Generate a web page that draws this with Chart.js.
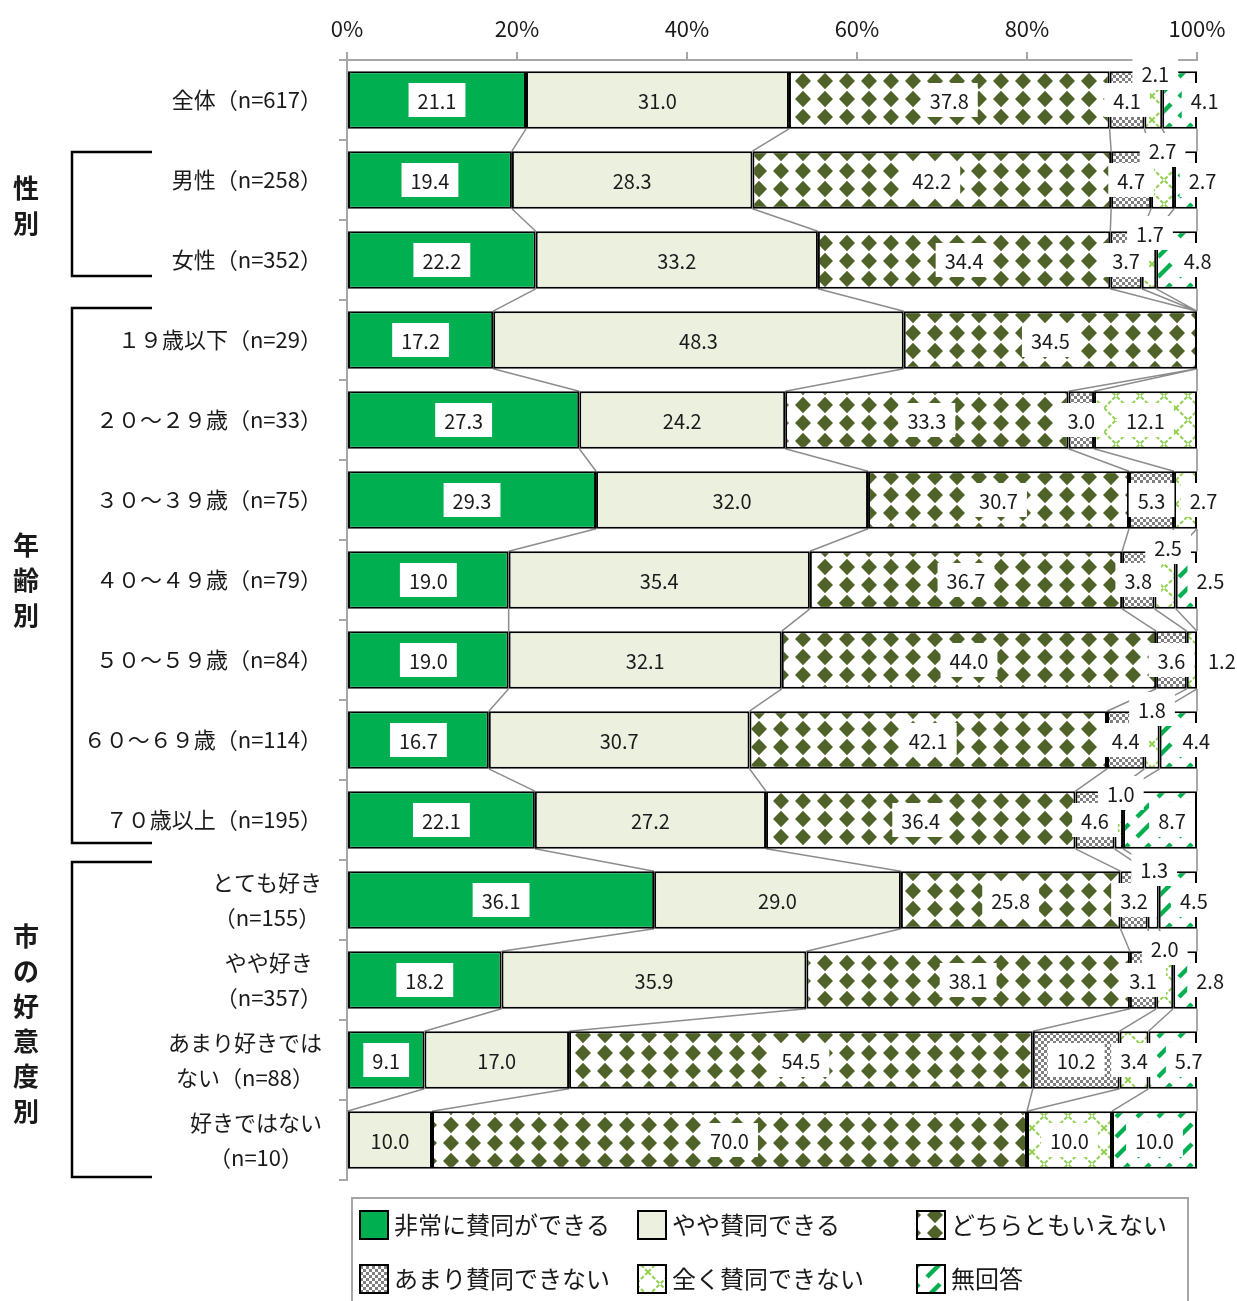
<!DOCTYPE html>
<html>
<head>
<meta charset="utf-8">
<script src="https://cdn.jsdelivr.net/npm/chart.js@4/dist/chart.umd.min.js"></script>
<style>
  html, body { margin: 0; padding: 0; background: #fff; }
</style>
</head>
<body>
<canvas id="surveyChart" width="1237" height="1301"></canvas>
<script>
// Row labels (multi-line rows are arrays of lines)
const rowLabels = [
  ["全体（n=617）"],
  ["男性（n=258）"],
  ["女性（n=352）"],
  ["１９歳以下（n=29）"],
  ["２０～２９歳（n=33）"],
  ["３０～３９歳（n=75）"],
  ["４０～４９歳（n=79）"],
  ["５０～５９歳（n=84）"],
  ["６０～６９歳（n=114）"],
  ["７０歳以上（n=195）"],
  ["とても好き", "（n=155）"],
  ["やや好き", "（n=357）"],
  ["あまり好きでは", "ない（n=88）"],
  ["好きではない", "（n=10）"],
];

const groupLabels = ["性別", "年齢別", "市の好意度別"];
const groupFirstRow = [1, 3, 10];
const groupLastRow = [2, 9, 13];

const seriesNames = [
  "非常に賛同ができる",
  "やや賛同できる",
  "どちらともいえない",
  "あまり賛同できない",
  "全く賛同できない",
  "無回答",
];

// Percentages per series, one value per row
const strongAgree = [21.1, 19.4, 22.2, 17.2, 27.3, 29.3, 19.0, 19.0, 16.7, 22.1, 36.1, 18.2, 9.1, 0];
const someAgree = [31.0, 28.3, 33.2, 48.3, 24.2, 32.0, 35.4, 32.1, 30.7, 27.2, 29.0, 35.9, 17.0, 10.0];
const neutral = [37.8, 42.2, 34.4, 34.5, 33.3, 30.7, 36.7, 44.0, 42.1, 36.4, 25.8, 38.1, 54.5, 70.0];
const notMuch = [4.1, 4.7, 3.7, 0, 3.0, 5.3, 3.8, 3.6, 4.4, 4.6, 3.2, 3.1, 10.2, 0];
const notAtAll = [2.1, 2.7, 1.7, 0, 12.1, 2.7, 2.5, 1.2, 1.8, 1.0, 1.3, 2.0, 3.4, 10.0];
const noAnswer = [4.1, 2.7, 4.8, 0, 0, 0, 2.5, 0, 4.4, 8.7, 4.5, 2.8, 5.7, 10.0];

const xTickValues = [0, 20, 40, 60, 80, 100];

const seriesValues = [strongAgree, someAgree, neutral, notMuch, notAtAll, noAnswer];

const FONT = '"Noto Sans CJK JP", "Noto Sans", sans-serif';
Chart.defaults.font.family = FONT;

// Label nudges for the small segments: "row,series" -> [dx, dy]
const labelNudge = {
  "0,4": [2, -27], "0,5": [25, 0],
  "1,4": [0, -30], "1,5": [17, 0],
  "2,4": [1, -27], "2,5": [21, 0],
  "5,4": [18, 0],
  "6,4": [3, -33], "6,5": [24, 0],
  "7,4": [30, 0],
  "8,4": [0, -31], "8,5": [18, 0],
  "9,4": [2, -27], "9,5": [12, 0],
  "10,4": [1, -31], "10,5": [16, 0],
  "11,4": [0, -32], "11,5": [25, 0],
  "12,5": [16, 0],
};

// bracket insets (px) above first row centre / below last row centre
const bracketTopInset = [28, 32, 38];
const bracketBottomInset = [16, 23, 37];
const titleShift = [-8, 5, 4];

// ---- fill patterns ----
function makeTile(w, h, draw) {
  const c = document.createElement("canvas");
  c.width = w;
  c.height = h;
  const g = c.getContext("2d");
  g.fillStyle = "#fff";
  g.fillRect(0, 0, w, h);
  draw(g);
  return document.getElementById("surveyChart").getContext("2d").createPattern(c, "repeat");
}

const diamondFill = makeTile(22, 18, (g) => {
  g.fillStyle = "#4F6228";
  g.beginPath();
  g.moveTo(11, 0.8);
  g.lineTo(19, 9);
  g.lineTo(11, 17.2);
  g.lineTo(3, 9);
  g.closePath();
  g.fill();
});

const checkerFill = makeTile(6, 6, (g) => {
  g.fillStyle = "#7F7F7F";
  g.fillRect(0, 0, 3, 3);
  g.fillRect(3, 3, 3, 3);
});

const crossFill = makeTile(24, 24, (g) => {
  g.strokeStyle = "#92D050";
  g.lineWidth = 2;
  g.setLineDash([4, 2]);
  g.beginPath();
  g.moveTo(0, 0);
  g.lineTo(24, 24);
  g.moveTo(24, 0);
  g.lineTo(0, 24);
  g.stroke();
});

const stripeFill = makeTile(21, 20, (g) => {
  g.strokeStyle = "#00B050";
  g.lineWidth = 4.5;
  g.beginPath();
  g.moveTo(3, 17);
  g.lineTo(16, 4);
  g.stroke();
});

const fills = ["#00B050", "#EBF1DE", diamondFill, checkerFill, crossFill, stripeFill];

// Excel-style 100% stacking: normalise each row to its total
const rowTotals = rowLabels.map((_, i) => seriesValues.reduce((s, arr) => s + arr[i], 0));

// Gray lines joining the segment edges of neighbouring bars
const connectorLines = {
  id: "connectorLines",
  beforeDatasetsDraw(chart) {
    const ctx = chart.ctx;
    const metas = seriesValues.map((_, k) => chart.getDatasetMeta(k));
    ctx.save();
    ctx.strokeStyle = "#8C8C8C";
    ctx.lineWidth = 1.5;
    ctx.beginPath();
    for (let i = 0; i < rowLabels.length - 1; i++) {
      metas.forEach((meta) => {
        const a = meta.data[i];
        const b = meta.data[i + 1];
        ctx.moveTo(a.x, a.y + a.height / 2);
        ctx.lineTo(b.x, b.y - b.height / 2);
      });
    }
    ctx.stroke();
    ctx.restore();
  },
};

// Value labels with white boxes
const valueLabels = {
  id: "valueLabels",
  afterDatasetsDraw(chart) {
    const ctx = chart.ctx;
    ctx.save();
    ctx.font = "20px " + FONT;
    ctx.textAlign = "center";
    ctx.textBaseline = "middle";
    seriesValues.forEach((vals, k) => {
      chart.getDatasetMeta(k).data.forEach((bar, i) => {
        const v = vals[i];
        if (!v) return;
        const nudge = labelNudge[i + "," + k] || [0, 0];
        const x = (bar.x + bar.base) / 2 + nudge[0];
        const y = bar.y + nudge[1];
        const text = v.toFixed(1);
        const w = ctx.measureText(text).width;
        if (k !== 1) {
          ctx.fillStyle = "#fff";
          ctx.fillRect(x - w / 2 - 9, y - 17, w + 18, 34);
        }
        ctx.fillStyle = "#1a1a1a";
        ctx.fillText(text, x, y + 1);
      });
    });
    ctx.restore();
  },
};

// Row labels, group brackets and the boxed legend
const sideAndLegend = {
  id: "sideAndLegend",
  afterDraw(chart) {
    const ctx = chart.ctx;
    const yScale = chart.scales.y;
    ctx.save();

    // row labels
    ctx.font = "22px " + FONT;
    ctx.fillStyle = "#1a1a1a";
    ctx.textBaseline = "middle";
    rowLabels.forEach((lines, i) => {
      const cy = yScale.getPixelForValue(i);
      if (lines.length === 1) {
        ctx.textAlign = "right";
        ctx.fillText(lines[0], 322, cy);
      } else {
        const maxW = Math.max(...lines.map((l) => ctx.measureText(l).width));
        ctx.textAlign = "center";
        lines.forEach((l, j) => {
          ctx.fillText(l, 322 - maxW / 2, cy + (j - (lines.length - 1) / 2) * 35);
        });
      }
    });

    // group brackets and vertical titles
    ctx.strokeStyle = "#000";
    ctx.lineWidth = 2.5;
    ctx.font = "bold 26px " + FONT;
    ctx.textAlign = "center";
    groupLabels.forEach((name, g) => {
      const top = yScale.getPixelForValue(groupFirstRow[g]) - bracketTopInset[g];
      const bottom = yScale.getPixelForValue(groupLastRow[g]) + bracketBottomInset[g];
      ctx.beginPath();
      ctx.moveTo(152, top);
      ctx.lineTo(72, top);
      ctx.lineTo(72, bottom);
      ctx.lineTo(152, bottom);
      ctx.stroke();
      const chars = Array.from(name);
      const mid = (top + bottom) / 2 + titleShift[g];
      chars.forEach((ch, j) => {
        ctx.fillText(ch, 26, mid + (j - (chars.length - 1) / 2) * 35);
      });
    });

    // legend
    ctx.strokeStyle = "#A6A6A6";
    ctx.lineWidth = 2;
    ctx.strokeRect(352, 1198, 836, 130);
    const cols = [360, 638, 917];
    const rows = [1225, 1279];
    ctx.font = "24px " + FONT;
    ctx.textAlign = "left";
    seriesNames.forEach((name, k) => {
      const x = cols[k % 3];
      const cy = rows[Math.floor(k / 3)];
      ctx.fillStyle = fills[k];
      ctx.fillRect(x, cy - 14, 28, 28);
      ctx.strokeStyle = "#000";
      ctx.lineWidth = 2;
      ctx.strokeRect(x, cy - 14, 28, 28);
      ctx.fillStyle = "#1a1a1a";
      ctx.fillText(name, x + 34, cy);
    });
    ctx.restore();
  },
};

const surveyChart = new Chart(document.getElementById("surveyChart"), {
  type: "bar",
  data: {
    labels: rowLabels.map((l) => l.join("")),
    datasets: seriesValues.map((vals, k) => ({
      label: seriesNames[k],
      data: vals.map((v, i) => (v / rowTotals[i]) * 100),
      backgroundColor: fills[k],
      borderColor: "#000",
      borderWidth: 2,
      borderSkipped: false,
      barPercentage: 0.72,
      categoryPercentage: 1,
    })),
  },
  options: {
    indexAxis: "y",
    responsive: false,
    animation: false,
    layout: { padding: { left: 0, right: 40, top: 0, bottom: 121 } },
    plugins: {
      legend: { display: false },
      tooltip: { enabled: false },
    },
    scales: {
      x: {
        position: "top",
        stacked: true,
        min: 0,
        max: 100,
        afterBuildTicks: (scale) => {
          scale.ticks = xTickValues.map((v) => ({ value: v }));
        },
        ticks: {
          callback: (v) => v + "%",
          font: { size: 22 },
          color: "#1a1a1a",
          padding: 10,
          maxRotation: 0,
        },
        grid: { drawOnChartArea: false, tickLength: 8, color: "#A6A6A6", lineWidth: 2 },
        border: { color: "#A6A6A6", width: 2 },
        afterFit: (scale) => {
          scale.height = 60;
        },
      },
      y: {
        stacked: true,
        ticks: { display: false },
        grid: { drawOnChartArea: false, tickLength: 8, color: "#A6A6A6", lineWidth: 2, offset: true },
        border: { color: "#A6A6A6", width: 2 },
        afterFit: (scale) => {
          scale.width = 347;
        },
      },
    },
  },
  plugins: [connectorLines, valueLabels, sideAndLegend],
});
</script>
</body>
</html>
